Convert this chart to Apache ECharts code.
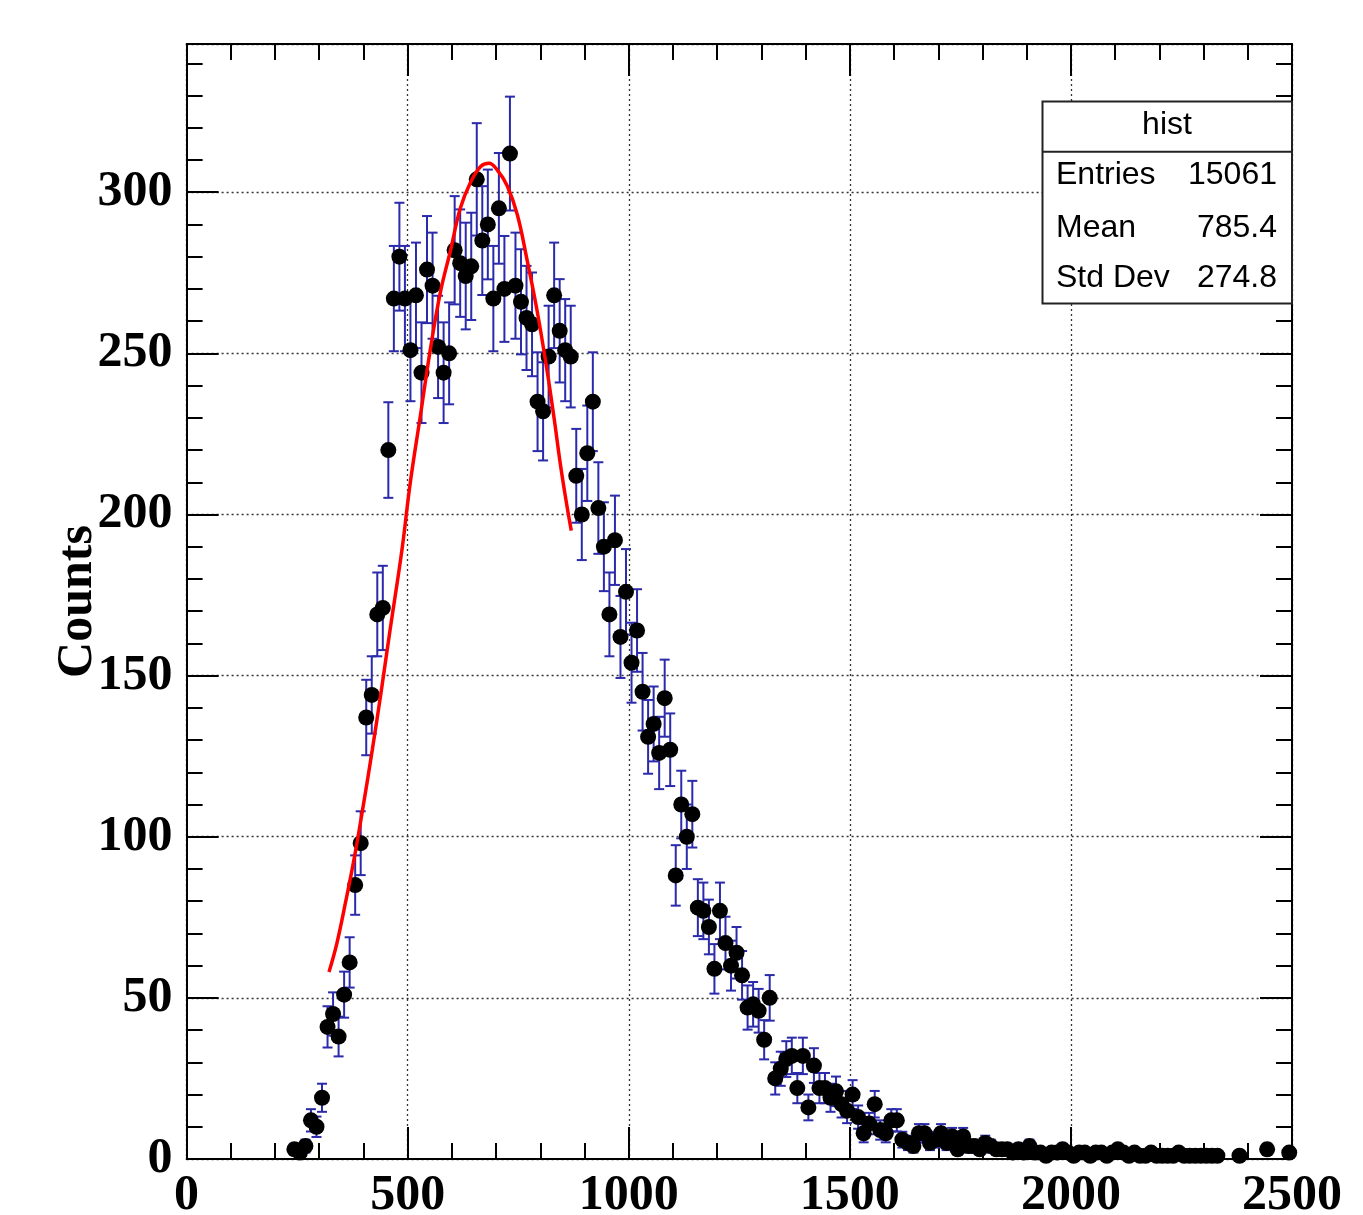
<!DOCTYPE html>
<html>
<head>
<meta charset="utf-8">
<script src="https://cdn.jsdelivr.net/npm/echarts@6/dist/echarts.min.js"></script>
<style>html,body{margin:0;padding:0;background:#fff;}#c{width:1363px;height:1215px;}</style>
</head>
<body>
<div id="c"></div>
<script>
// ---- histogram definition ----
const binWidth = 12.5;      // 200 bins over 0..2500
const firstBin = 19;        // index of first listed bin
// bin contents, from bin 19 upward (null = empty bin, not drawn)
const counts = [
  3, 2, 4, 12, 10, 19, 41, 45, 38, 51, 61, 85, 98, 137, 144, 169, 171,          // 19-35
  220, 267, 280, 267, 251, 268, 244, 276, 271, 252, 244, 250, 282, 278, 274,    // 36-50
  277, 304, 285, 290, 267, 295, 270, 312, 271, 266, 261, 259, 235, 232, 249,    // 51-65
  268, 257, 251, 249, 212, 200, 219, 235, 202, 190, 169, 192, 162, 176, 154,    // 66-80
  164, 145, 131, 135, 126, 143, 127, 88, 110, 100, 107, 78, 77, 72, 59,         // 81-95
  77, 67, 60, 64, 57, 47, 48, 46, 37, 50, 25, 28, 31, 32, 22,                   // 96-110
  32, 16, 29, 22, 22, 19, 21, 17, 15, 20, 13, 8, 11, 17, 9,                     // 111-125
  8, 12, 12, 6, 5, 4, 8, 8, 5, 6, 8, 5, 7, 3, 7,                                // 126-140
  4, 4, 3, 5, 4, 3, 3, 3, 2, 3, 2, 4, 2, 2, 1,                                  // 141-155
  2, 2, 3, 2, 1, 2, 2, 1, 2, 2, 1, 2, 3, 2, 1,                                  // 156-170
  2, 1, 1, 2, 1, 1, 1, 1, 2, 1, 1, 1, 1, 1, 1,                                  // 171-185
  1, null, null, null, 1, null, null, null, null, 3, null, null, null, 2        // 186-199
];
// fitted curve, points
const fitX = [322, 340, 360, 380, 400, 420, 440, 460, 487, 506, 528, 551, 574, 597, 619, 642, 665, 684, 702, 725, 748, 770, 793, 816, 831, 846, 861, 870];
const fitY = [58, 67, 80, 94, 110, 127, 145, 164, 189, 210, 230, 251, 269, 282, 295, 303, 308, 309, 307, 302, 293, 279, 263, 244, 230, 215, 202, 195];
// stats box text
const statsTitle = 'hist';
const statsNames = ['Entries', 'Mean', 'Std Dev'];
const statsValues = ['15061', '785.4', '274.8'];
const yAxisTitle = 'Counts';

// ---- build series data ----
const points = [];
const errData = [];
counts.forEach((c, i) => {
  if (c === null || c <= 0) return;
  const x = (firstBin + i + 0.5) * binWidth;
  points.push([x, c]);
  errData.push([x, c, Math.sqrt(c)]);
});
const fitData = fitX.map((x, i) => [x, fitY[i]]);

const BLUE = '#2a2aaa';
const serif = '"Liberation Serif", "Times New Roman", serif';
const sans = '"Liberation Sans", Arial, sans-serif';

const chart = echarts.init(document.getElementById('c'), null, {renderer: 'canvas'});

const frameLine = {show: true, onZero: false, lineStyle: {color: '#000', width: 2}};
const hiddenLine = {show: true, onZero: false, lineStyle: {color: 'rgba(0,0,0,0)', width: 0}};
const labelStyle = {fontFamily: serif, fontWeight: 'bold', fontSize: 50, color: '#000'};
const plain = v => String(v);
const txt = (x, y, text, align) => ({
  type: 'text', x: x, y: y, z: 101, zlevel: 1,
  style: {text: text, fontFamily: sans, fontSize: 32, fill: '#000', align: align, verticalAlign: 'middle'}
});

const option = {
  animation: false,
  backgroundColor: '#fff',
  grid: {left: 186.6, right: 71, top: 44, bottom: 56, containLabel: false, outerBoundsMode: 'none'},
  xAxis: [
    {
      type: 'value', min: 0, max: 2500, interval: 500, position: 'bottom', offset: 0,
      axisLine: frameLine,
      axisTick: {show: true, inside: true, length: 32, lineStyle: {color: '#000', width: 2}},
      minorTick: {show: true, splitNumber: 5, length: 16, lineStyle: {color: '#000', width: 2}},
      splitLine: {show: true, lineStyle: {color: '#333', width: 1.3, type: [2, 3]}},
      axisLabel: Object.assign({margin: 12, formatter: plain}, labelStyle)
    },
    {
      type: 'value', min: 0, max: 2500, interval: 500, position: 'top', offset: 0,
      axisLine: frameLine,
      axisTick: {show: true, inside: true, length: 32, lineStyle: {color: '#000', width: 2}},
      minorTick: {show: true, splitNumber: 5, length: 16, lineStyle: {color: '#000', width: 2}},
      splitLine: {show: false},
      axisLabel: {show: false}
    }
  ],
  yAxis: [
    {
      type: 'value', min: 0, max: 346, interval: 50, position: 'left', offset: 0,
      axisLine: frameLine,
      axisTick: {show: true, inside: true, length: 32, lineStyle: {color: '#000', width: 2}},
      splitLine: {show: true, lineStyle: {color: '#333', width: 1.3, type: [2, 3]}},
      axisLabel: Object.assign({margin: 14, showMaxLabel: false, formatter: plain}, labelStyle),
      name: yAxisTitle, nameLocation: 'middle', nameRotate: 90, nameGap: 84, nameMoveOverlap: false,
      nameTextStyle: {fontFamily: serif, fontWeight: 'bold', fontSize: 50, color: '#000'}
    },
    {
      type: 'value', min: 0, max: 346, interval: 10, position: 'left', offset: 0,
      axisLine: hiddenLine,
      axisTick: {show: true, inside: true, length: 16, lineStyle: {color: '#000', width: 2}},
      splitLine: {show: false}, axisLabel: {show: false}
    },
    {
      type: 'value', min: 0, max: 346, interval: 50, position: 'right', offset: 0,
      axisLine: frameLine,
      axisTick: {show: true, inside: true, length: 32, lineStyle: {color: '#000', width: 2}},
      splitLine: {show: false}, axisLabel: {show: false}
    },
    {
      type: 'value', min: 0, max: 346, interval: 10, position: 'right', offset: 0,
      axisLine: hiddenLine,
      axisTick: {show: true, inside: true, length: 16, lineStyle: {color: '#000', width: 2}},
      splitLine: {show: false}, axisLabel: {show: false}
    }
  ],
  series: [
    {
      type: 'custom', name: 'errors', xAxisIndex: 0, yAxisIndex: 0, z: 2,
      data: errData,
      renderItem: function (params, api) {
        const x = api.value(0), c = api.value(1), e = api.value(2);
        const top = api.coord([x, c + e]);
        const bot = api.coord([x, c - e]);
        const cw = 5;
        const st = {stroke: BLUE, lineWidth: 2};
        return {
          type: 'group',
          children: [
            {type: 'line', shape: {x1: top[0], y1: top[1], x2: bot[0], y2: bot[1]}, style: st},
            {type: 'line', shape: {x1: top[0] - cw, y1: top[1], x2: top[0] + cw, y2: top[1]}, style: st},
            {type: 'line', shape: {x1: bot[0] - cw, y1: bot[1], x2: bot[0] + cw, y2: bot[1]}, style: st}
          ]
        };
      }
    },
    {
      type: 'scatter', name: 'hist', xAxisIndex: 0, yAxisIndex: 0, z: 3,
      symbol: 'circle', symbolSize: 16,
      itemStyle: {color: '#000', opacity: 1},
      data: points
    },
    {
      type: 'line', name: 'fit', xAxisIndex: 0, yAxisIndex: 0, z: 4,
      smooth: 0.4, showSymbol: false, symbol: 'none',
      lineStyle: {color: '#ff0000', width: 3.5},
      data: fitData
    }
  ],
  graphic: [
    {type: 'rect', z: 100, zlevel: 1, shape: {x: 1042.5, y: 101.5, width: 249.5, height: 202}, style: {fill: '#fff', stroke: '#222', lineWidth: 2}},
    {type: 'line', z: 101, zlevel: 1, shape: {x1: 1042.5, y1: 151.7, x2: 1292, y2: 151.7}, style: {stroke: '#222', lineWidth: 2}},
    txt(1167, 125, statsTitle, 'center'),
    txt(1056, 175, statsNames[0], 'left'),
    txt(1277, 175, statsValues[0], 'right'),
    txt(1056, 228, statsNames[1], 'left'),
    txt(1277, 228, statsValues[1], 'right'),
    txt(1056, 278, statsNames[2], 'left'),
    txt(1277, 278, statsValues[2], 'right')
  ]
};
chart.setOption(option);
</script>
</body>
</html>
